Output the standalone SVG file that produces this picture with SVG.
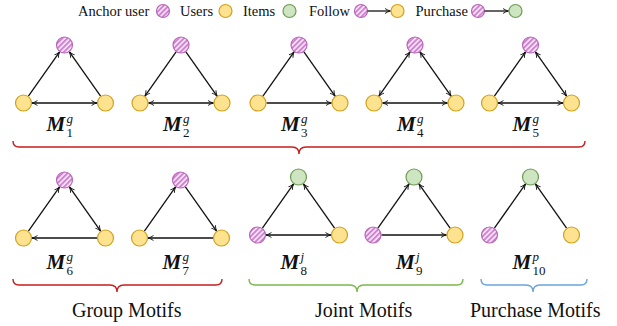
<svg xmlns="http://www.w3.org/2000/svg" width="617" height="326" viewBox="0 0 617 326">
<style>
.txt{font-family:"Liberation Serif","Times New Roman",serif;fill:#111}
.leg{font-size:14.5px}
.big{font-size:20px}
.M{font-family:"Liberation Serif","Times New Roman",serif;font-size:21px;font-weight:bold;font-style:italic;fill:#111}
.sup{font-family:"Liberation Serif","Times New Roman",serif;font-size:13px;font-style:italic;fill:#111}
.sub{font-family:"Liberation Serif","Times New Roman",serif;font-size:13px;fill:#111}
.anc{fill:url(#hatch);stroke:#b866b8;stroke-width:1.2}
.usr{fill:#fde28f;stroke:#d2a11c;stroke-width:1.2}
.itm{fill:#cde5c1;stroke:#6f9b55;stroke-width:1.2}
.e{fill:none;stroke:#111;stroke-width:1.3}
.f{marker-end:url(#ah)}
.b{marker-start:url(#ah);marker-end:url(#ah)}
.brace{fill:none;stroke-width:1.4}
</style>
<defs>
<pattern id="hatch" width="3.6" height="3.6" patternUnits="userSpaceOnUse" patternTransform="rotate(45)">
<rect width="3.6" height="3.6" fill="#f6e4f6"/>
<rect width="1.9" height="3.6" fill="#cf82cf"/>
</pattern>
<marker id="ah" viewBox="0 0 10 10" refX="9.3" refY="5" markerWidth="7" markerHeight="7" orient="auto-start-reverse" markerUnits="userSpaceOnUse">
<path d="M1.5,1.5 Q5.5,4.2 9.3,5 Q5.5,5.8 1.5,8.5" fill="none" stroke="#111" stroke-width="1.3"/>
</marker>
</defs>

<g id="legend">
<text class="txt leg" x="78" y="16">Anchor user</text>
<circle class="anc" cx="163" cy="11" r="6.5"/>
<text class="txt leg" x="180" y="16">Users</text>
<circle class="usr" cx="225.5" cy="11" r="6.5"/>
<text class="txt leg" x="243" y="16">Items</text>
<circle class="itm" cx="289.5" cy="11" r="6.5"/>
<text class="txt leg" x="309" y="16">Follow</text>
<circle class="anc" cx="361" cy="11" r="6.5"/>
<path class="e f" d="M367.5,11 H390.5"/>
<circle class="usr" cx="397.5" cy="11" r="6.5"/>
<text class="txt leg" x="415.5" y="16">Purchase</text>
<circle class="anc" cx="478" cy="11" r="6.5"/>
<path class="e f" d="M484.5,11 H508.5"/>
<circle class="itm" cx="515.5" cy="11" r="6.5"/>
</g>

<g id="connectors">
<!-- M1 -->
<g transform="translate(64.5,45)">
<path class="e f" d="M-36.1,51.1 L-4.9,6.9"/><path class="e f" d="M36.1,51.1 L4.9,6.9"/><path class="e b" d="M-32.5,58 H32.5"/>
</g>
<!-- M2 -->
<g transform="translate(181,45)">
<path class="e f" d="M-4.9,6.9 L-36.1,51.1"/><path class="e f" d="M4.9,6.9 L36.1,51.1"/><path class="e b" d="M-32.5,58 H32.5"/>
</g>
<!-- M3 -->
<g transform="translate(299,45)">
<path class="e f" d="M-36.1,51.1 L-4.9,6.9"/><path class="e f" d="M4.9,6.9 L36.1,51.1"/><path class="e f" d="M-32.5,58 H32.5"/>
</g>
<!-- M4 -->
<g transform="translate(415,45)">
<path class="e b" d="M-36.1,51.1 L-4.9,6.9"/><path class="e b" d="M36.1,51.1 L4.9,6.9"/><path class="e b" d="M-32.5,58 H32.5"/>
</g>
<!-- M5 -->
<g transform="translate(530.5,45)">
<path class="e f" d="M-36.1,51.1 L-4.9,6.9"/><path class="e b" d="M36.1,51.1 L4.9,6.9"/><path class="e b" d="M-32.5,58 H32.5"/>
</g>
<!-- M6 -->
<g transform="translate(64.5,180)">
<path class="e f" d="M-36.1,51.1 L-4.9,6.9"/><path class="e b" d="M36.1,51.1 L4.9,6.9"/><path class="e f" d="M32.5,58 H-32.5"/>
</g>
<!-- M7 -->
<g transform="translate(180.5,180)">
<path class="e f" d="M-36.1,51.1 L-4.9,6.9"/><path class="e f" d="M4.9,6.9 L36.1,51.1"/><path class="e f" d="M32.5,58 H-32.5"/>
</g>
<!-- M8 -->
<g transform="translate(298.5,177)">
<path class="e f" d="M-36.1,51.1 L-4.9,6.9"/><path class="e f" d="M36.1,51.1 L4.9,6.9"/><path class="e b" d="M-32.5,58 H32.5"/>
</g>
<!-- M9 -->
<g transform="translate(414,177)">
<path class="e f" d="M-36.1,51.1 L-4.9,6.9"/><path class="e f" d="M36.1,51.1 L4.9,6.9"/><path class="e f" d="M-32.5,58 H32.5"/>
</g>
<!-- M10 -->
<g transform="translate(530.5,177)">
<path class="e f" d="M-36.1,51.1 L-4.9,6.9"/><path class="e f" d="M36.1,51.1 L4.9,6.9"/>
</g>
</g>

<g id="M1" transform="translate(64.5,45)">
<circle class="anc" cx="0" cy="0" r="8"/><circle class="usr" cx="-41" cy="58" r="8"/><circle class="usr" cx="41" cy="58" r="8"/>
<text class="M" x="-18" y="86">M</text><text class="sup" x="2" y="78">g</text><text class="sub" x="2" y="92">1</text>
</g>
<g id="M2" transform="translate(181,45)">
<circle class="anc" cx="0" cy="0" r="8"/><circle class="usr" cx="-41" cy="58" r="8"/><circle class="usr" cx="41" cy="58" r="8"/>
<text class="M" x="-18" y="86">M</text><text class="sup" x="2" y="78">g</text><text class="sub" x="2" y="92">2</text>
</g>
<g id="M3" transform="translate(299,45)">
<circle class="anc" cx="0" cy="0" r="8"/><circle class="usr" cx="-41" cy="58" r="8"/><circle class="usr" cx="41" cy="58" r="8"/>
<text class="M" x="-18" y="86">M</text><text class="sup" x="2" y="78">g</text><text class="sub" x="2" y="92">3</text>
</g>
<g id="M4" transform="translate(415,45)">
<circle class="anc" cx="0" cy="0" r="8"/><circle class="usr" cx="-41" cy="58" r="8"/><circle class="usr" cx="41" cy="58" r="8"/>
<text class="M" x="-18" y="86">M</text><text class="sup" x="2" y="78">g</text><text class="sub" x="2" y="92">4</text>
</g>
<g id="M5" transform="translate(530.5,45)">
<circle class="anc" cx="0" cy="0" r="8"/><circle class="usr" cx="-41" cy="58" r="8"/><circle class="usr" cx="41" cy="58" r="8"/>
<text class="M" x="-18" y="86">M</text><text class="sup" x="2" y="78">g</text><text class="sub" x="2" y="92">5</text>
</g>
<g id="M6" transform="translate(64.5,180)">
<circle class="anc" cx="0" cy="0" r="8"/><circle class="usr" cx="-41" cy="58" r="8"/><circle class="usr" cx="41" cy="58" r="8"/>
<text class="M" x="-18" y="89">M</text><text class="sup" x="2" y="81">g</text><text class="sub" x="2" y="95">6</text>
</g>
<g id="M7" transform="translate(180.5,180)">
<circle class="anc" cx="0" cy="0" r="8"/><circle class="usr" cx="-41" cy="58" r="8"/><circle class="usr" cx="41" cy="58" r="8"/>
<text class="M" x="-18" y="89">M</text><text class="sup" x="2" y="81">g</text><text class="sub" x="2" y="95">7</text>
</g>
<g id="M8" transform="translate(298.5,177)">
<circle class="itm" cx="0" cy="0" r="8"/><circle class="anc" cx="-41" cy="58" r="8"/><circle class="usr" cx="41" cy="58" r="8"/>
<text class="M" x="-18" y="92">M</text><text class="sup" x="2" y="84">j</text><text class="sub" x="2" y="98">8</text>
</g>
<g id="M9" transform="translate(414,177)">
<circle class="itm" cx="0" cy="0" r="8"/><circle class="anc" cx="-41" cy="58" r="8"/><circle class="usr" cx="41" cy="58" r="8"/>
<text class="M" x="-18" y="92">M</text><text class="sup" x="2" y="84">j</text><text class="sub" x="2" y="98">9</text>
</g>
<g id="M10" transform="translate(530.5,177)">
<circle class="itm" cx="0" cy="0" r="8"/><circle class="anc" cx="-41" cy="58" r="8"/><circle class="usr" cx="41" cy="58" r="8"/>
<text class="M" x="-18" y="92">M</text><text class="sup" x="2" y="84">p</text><text class="sub" x="2" y="98">10</text>
</g>

<g id="braces">
<path class="brace" stroke="#c81e1e" d="M13,141 q0,6 6,6 H292 q7,0 7,7 q0,-7 7,-7 H579 q6,0 6,-6"/>
<path class="brace" stroke="#c81e1e" d="M13,279 q0,6 6,6 H110 q7,0 7,7 q0,-7 7,-7 H216 q6,0 6,-6"/>
<path class="brace" stroke="#7cb84a" d="M249,279 q0,6 6,6 H350 q7,0 7,7 q0,-7 7,-7 H457 q6,0 6,-6"/>
<path class="brace" stroke="#6aa4dc" d="M481,279 q0,6 6,6 H526 q7,0 7,7 q0,-7 7,-7 H581 q6,0 6,-6"/>
<text class="txt big" x="72" y="317">Group Motifs</text>
<text class="txt big" x="315" y="317">Joint Motifs</text>
<text class="txt big" x="470" y="317">Purchase Motifs</text>
</g>
</svg>
